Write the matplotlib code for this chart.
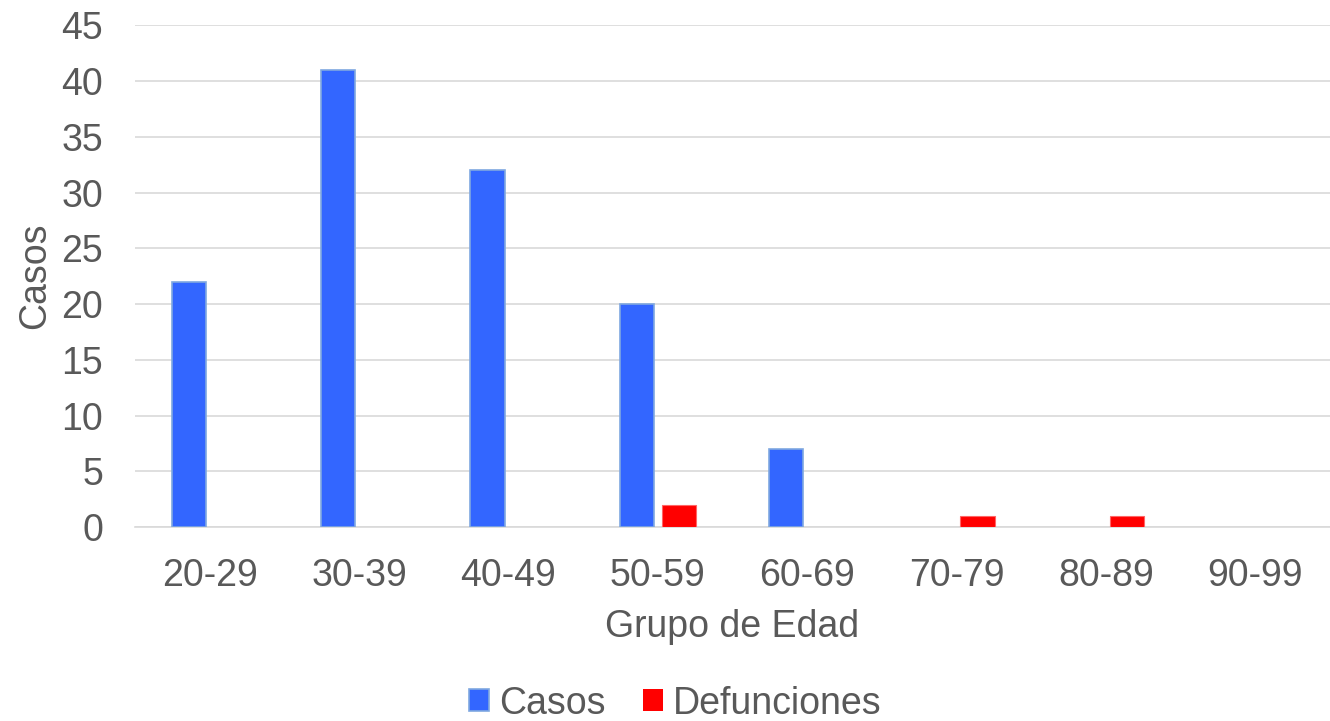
import matplotlib.pyplot as plt
import numpy as np

# data
grupos = ["20-29", "30-39", "40-49", "50-59", "60-69", "70-79", "80-89", "90-99"]
casos = [22, 41, 32, 20, 7, 0, 0, 0]
defunciones = [0, 0, 0, 2, 0, 1, 1, 0]
yticks = [0, 5, 10, 15, 20, 25, 30, 35, 40, 45]

text_color = "#595959"
grid_color = "#D9D9D9"
fs = 27

plt.rcParams["font.family"] = ["Liberation Sans", "DejaVu Sans"]

fig = plt.figure(figsize=(13.3, 7.21), dpi=100)
ax = fig.add_axes([0.1015, 0.269, 0.8985, 0.696])

x = np.arange(len(grupos))
w = 0.23
off = 0.14
#no outline on the empty bars
ax.bar(x - off, casos, width=w, color="#3366FF", edgecolor="#7FA8E0",
       linewidth=[1.2 if v else 0 for v in casos], label="Casos", zorder=3)
ax.bar(x + off, defunciones, width=w, color="#FF0000", edgecolor="#FF6666",
       linewidth=[0.8 if v else 0 for v in defunciones], label="Defunciones", zorder=3)

ax.set_xlim(-0.5, len(grupos) - 0.5)
ax.set_ylim(0, 45)
ax.set_yticks(yticks)
ax.set_xticks(x)
ax.set_xticklabels(grupos)

ax.grid(axis="y", color=grid_color, linewidth=1.2, zorder=0)
for s in ["top", "right", "left"]:
    ax.spines[s].set_visible(False)
ax.spines["bottom"].set_color(grid_color)
ax.spines["bottom"].set_linewidth(1.2)
ax.tick_params(axis="both", length=0, labelsize=fs, colors=text_color)
ax.tick_params(axis="x", pad=22)
ax.tick_params(axis="y", pad=23)

ax.set_xlabel("Grupo de Edad", fontsize=fs, color=text_color, labelpad=11)
ax.set_ylabel("Casos", fontsize=fs, color=text_color, labelpad=6)

fig.legend(loc="center", bbox_to_anchor=(0.5075, 0.024), ncol=2, frameon=False,
           fontsize=fs, labelcolor=text_color, handlelength=0.53, handleheight=0.53,
           handletextpad=0.27, columnspacing=1.0)

plt.savefig("out.png", dpi=100)
plt.close()
